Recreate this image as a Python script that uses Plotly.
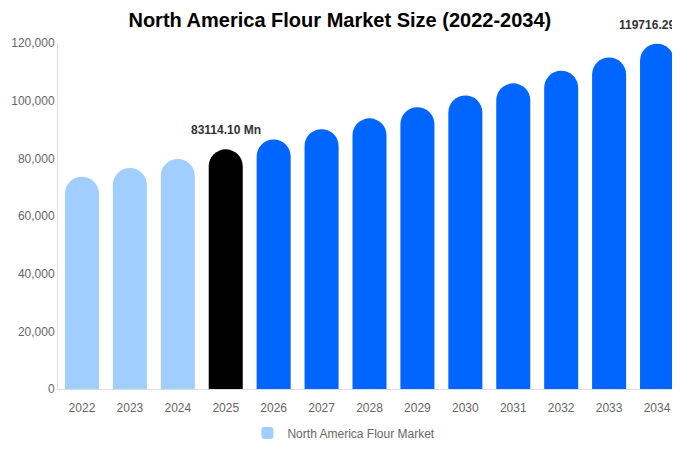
import plotly.graph_objects as go

years = [2022, 2023, 2024, 2025, 2026, 2027, 2028, 2029,
         2030, 2031, 2032, 2033, 2034]
year_labels = ["2022", "2023", "2024", "2025", "2026", "2027", "2028", "2029",
               "2030", "2031", "2032", "2033", "2034"]
values = [73600, 76650, 79800, 83114.10, 86550, 90130, 93860, 97750,
          101790, 106000, 110390, 114960, 119716.29]
bar_colors = ["#A0CFFF"] * 3 + ["#000000"] + ["#0066FF"] * 9
label_years = [2025, 2034]
label_texts = ["83114.10 Mn", "119716.29 Mn"]
y_ticks = [0, 20000, 40000, 60000, 80000, 100000, 120000]
y_tick_labels = ["0", "20,000", "40,000", "60,000", "80,000", "100,000", "120,000"]

FONT = "Liberation Sans, Arial, sans-serif"

fig = go.Figure()
fig.add_trace(go.Bar(
    x=years,
    y=values,
    width=0.71,
    name="North America Flour Market",
    marker=dict(color=bar_colors, cornerradius="50%", line=dict(width=0)),
    hoverinfo="x+y",
))

annotations = []
for yr, txt in zip(label_years, label_texts):
    annotations.append(dict(
        x=yr, y=values[years.index(yr)], xref="x", yref="y",
        text="<b>" + txt + "</b>", showarrow=False,
        yanchor="bottom", yshift=10,
        font=dict(family=FONT, size=12, color="#333333"),
    ))

fig.update_layout(
    width=680, height=450,
    margin=dict(l=50, r=7, t=35, b=69),
    paper_bgcolor="white", plot_bgcolor="white",
    font=dict(family=FONT, size=12, color="#666666"),
    title=dict(
        text="<b>North America Flour Market Size (2022-2034)</b>",
        x=0.488, xref="container", xanchor="center",
        y=1 - 12 / 450, yref="container", yanchor="middle",
        pad=dict(t=0, b=0),
        font=dict(family=FONT, size=20, color="#000000"),
    ),
    showlegend=True,
    legend=dict(
        orientation="h", x=0.459, xanchor="center",
        y=-0.127, yanchor="middle",
        font=dict(family=FONT, size=12, color="#666666"),
    ),
    annotations=annotations,
    xaxis=dict(
        range=[years[0] - 0.5, years[-1] + 0.5],
        tickvals=years, ticktext=year_labels,
        showgrid=False, showline=True, linecolor="#DDDDDD", linewidth=1,
        zeroline=False, automargin=False,
        ticks="outside", ticklen=8, tickcolor="rgba(0,0,0,0)",
        tickfont=dict(family=FONT, size=12, color="#666666"),
    ),
    yaxis=dict(
        range=[0, 120000], tickvals=y_ticks, ticktext=y_tick_labels,
        showgrid=False, showline=True, linecolor="#DDDDDD", linewidth=1,
        zeroline=False, automargin=False, ticks="",
        tickfont=dict(family=FONT, size=12, color="#666666"),
    ),
)

fig.write_html("out.html")
